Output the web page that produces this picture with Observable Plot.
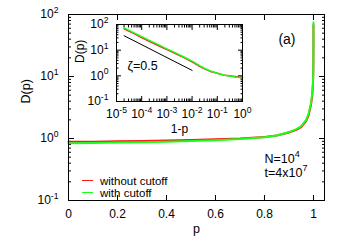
<!DOCTYPE html>
<html>
<head>
<meta charset="utf-8">
<script src="https://cdn.jsdelivr.net/npm/d3@7"></script>
<script src="https://cdn.jsdelivr.net/npm/@observablehq/plot@0.6"></script>
<style>
  html, body { margin: 0; padding: 0; background: #fff; }
  #wrap { position: relative; width: 343px; height: 240px; font-family: "Liberation Sans", Arial, sans-serif; }
  #wrap svg { position: absolute; left: 0; top: 0; }
  .leg { position: absolute; left: 82px; font-size: 11.5px; line-height: 11px; white-space: nowrap; color: #000; }
  .sw { display: inline-block; width: 11px; height: 0; border-top: 1px solid; vertical-align: middle; margin-right: 7px; position: relative; top: -1px; }
</style>
</head>
<body>
<div id="wrap"></div>
<script>
// ---- data ----
const oneMinusP = [1, 0.9, 0.8, 0.7, 0.6, 0.5, 0.4, 0.3, 0.2, 0.15, 0.1, 0.07, 0.05, 0.03, 0.02, 0.01, 0.005, 0.002, 0.001, 5e-4, 2e-4, 1e-4, 5e-5, 2e-5];
const dWithout  = [0.89, 0.89, 0.9, 0.91, 0.93, 0.95, 0.97, 1.0, 1.06, 1.12, 1.25, 1.38, 1.52, 1.9, 2.35, 3.5, 5.0, 7.7, 10.5, 14.5, 22, 31, 44, 68];
const dWith     = [0.84, 0.85, 0.86, 0.87, 0.89, 0.91, 0.94, 0.98, 1.05, 1.12, 1.27, 1.42, 1.58, 2.0, 2.5, 3.75, 5.3, 8.2, 11.3, 15.8, 24, 33.5, 47, 74];
const refX = [2e-5, 1e-2];      // zeta = 0.5 guide line
const refD = [36.5, 1.63];
const seriesNames = ["without cutoff", "with cutoff"];
const seriesColors = ["#ff1a1a", "#1aff1a"];
const xTicks = [0, 0.2, 0.4, 0.6, 0.8, 1];
const yMajor = [0.1, 1, 10, 100];
const insetXMajor = [1e-5, 1e-4, 1e-3, 1e-2, 1e-1, 1];

// minor log ticks
function minorLog(lo, hi) {
  const out = [];
  for (let e = lo; e < hi; e++) for (let m = 2; m <= 9; m++) out.push(m * Math.pow(10, e));
  return out;
}
const yMinor = minorLog(-1, 2);
const insetXMinor = minorLog(-5, 0);

const mainWithout = oneMinusP.map((q, i) => ({p: 1 - q, D: dWithout[i]}));
const mainWith = oneMinusP.map((q, i) => ({p: 1 - q, D: dWith[i]}));
const insWithout = oneMinusP.map((q, i) => ({q, D: dWithout[i]}));
const insWith = oneMinusP.map((q, i) => ({q, D: dWith[i]}));
const refLine = refX.map((q, i) => ({q, D: refD[i]}));

const pow10 = d => `10^${Math.round(Math.log10(d))}`;
const blank = () => "";
const font = "Liberation Sans, Arial, Helvetica, sans-serif";

const main = Plot.plot({
  width: 343, height: 240,
  marginLeft: 68, marginRight: 19, marginTop: 14, marginBottom: 40,
  x: {domain: [0, 1.045]},
  y: {type: "log", domain: [0.1, 100]},
  style: {fontFamily: font, fontSize: "12px", background: "transparent", color: "#000"},
  marks: [
    Plot.axisX({ticks: xTicks, tickSize: -5, tickPadding: 14, tickFormat: d => String(d), label: null}),
    Plot.axisX({anchor: "top", ticks: xTicks, tickSize: -5, tickFormat: blank, label: null}),
    Plot.axisY({ticks: yMajor, tickSize: -6, tickPadding: 16, tickFormat: pow10, label: null}),
    Plot.axisY({anchor: "right", ticks: yMajor, tickSize: -6, tickFormat: blank, label: null}),
    Plot.axisY({ticks: yMinor, tickSize: -3, tickFormat: blank, label: null}),
    Plot.axisY({anchor: "right", ticks: yMinor, tickSize: -3, tickFormat: blank, label: null}),
    Plot.line(mainWithout, {x: "p", y: "D", stroke: seriesColors[0], strokeWidth: 2}),
    Plot.line(mainWith, {x: "p", y: "D", stroke: seriesColors[1], strokeWidth: 2}),
    Plot.frame({stroke: "#000"}),
    Plot.text(["p"], {text: d => d, frameAnchor: "bottom", dy: 32, fontSize: 12.5}),
    Plot.text(["D(p)"], {text: d => d, frameAnchor: "left", dx: -43, dy: -4, rotate: -90, fontSize: 12.5}),
    Plot.text(["(a)"], {text: d => d, frameAnchor: "top-right", dx: -29, dy: 20, fontSize: 14}),
    Plot.text(["N=10^4"], {text: d => d, frameAnchor: "bottom-right", dx: -60, dy: -38, textAnchor: "start", fontSize: 12.5}),
    Plot.text(["t=4x10^7"], {text: d => d, frameAnchor: "bottom-right", dx: -60, dy: -24, textAnchor: "start", fontSize: 12.5})
  ]
});

const inset = Plot.plot({
  width: 343, height: 240,
  marginLeft: 116, marginRight: 101, marginTop: 24, marginBottom: 139,
  x: {type: "log", domain: [1e-5, 1]},
  y: {type: "log", domain: [0.1, 100]},
  style: {fontFamily: font, fontSize: "12px", background: "transparent", color: "#000"},
  marks: [
    Plot.axisX({ticks: insetXMajor, tickSize: -5, tickPadding: 13, tickFormat: pow10, label: null}),
    Plot.axisX({anchor: "top", ticks: insetXMajor, tickSize: -5, tickFormat: blank, label: null}),
    Plot.axisX({ticks: insetXMinor, tickSize: -2.5, tickFormat: blank, label: null}),
    Plot.axisX({anchor: "top", ticks: insetXMinor, tickSize: -2.5, tickFormat: blank, label: null}),
    Plot.axisY({ticks: yMajor, tickSize: -5, tickPadding: 13, tickFormat: pow10, label: null}),
    Plot.axisY({anchor: "right", ticks: yMajor, tickSize: -5, tickFormat: blank, label: null}),
    Plot.axisY({ticks: yMinor, tickSize: -2.5, tickFormat: blank, label: null}),
    Plot.axisY({anchor: "right", ticks: yMinor, tickSize: -2.5, tickFormat: blank, label: null}),
    Plot.line(refLine, {x: "q", y: "D", stroke: "#000", strokeWidth: 1}),
    Plot.line(insWithout, {x: "q", y: "D", stroke: seriesColors[0], strokeWidth: 1.5}),
    Plot.line(insWith, {x: "q", y: "D", stroke: seriesColors[1], strokeWidth: 1.5}),
    Plot.frame({stroke: "#000"}),
    Plot.text(["ζ=0.5"], {text: d => d, frameAnchor: "top-left", dx: 11, dy: 37, textAnchor: "start", fontSize: 12.5}),
    Plot.text(["1-p"], {text: d => d, frameAnchor: "bottom", dy: 31, fontSize: 12}),
    Plot.text(["D(p)"], {text: d => d, frameAnchor: "left", dx: -36, rotate: -90, fontSize: 12})
  ]
});

function supify(svg) {
  svg.querySelectorAll("text, tspan").forEach(el => {
    if (el.children.length) return;
    const s = el.textContent;
    const i = s.indexOf("^");
    if (i < 0) return;
    el.textContent = s.slice(0, i);
    const t = document.createElementNS("http://www.w3.org/2000/svg", "tspan");
    t.setAttribute("dy", "-0.6em");
    t.setAttribute("font-size", "0.72em");
    t.textContent = s.slice(i + 1);
    el.appendChild(t);
  });
}
supify(main);
supify(inset);

const wrap = document.getElementById("wrap");
wrap.appendChild(main);
wrap.appendChild(inset);

// legend
const legTops = [175.5, 187.5];
seriesNames.forEach((name, i) => {
  const row = document.createElement("div");
  row.className = "leg";
  row.style.top = legTops[i] + "px";
  const sw = document.createElement("span");
  sw.className = "sw";
  sw.style.borderTopColor = seriesColors[i];
  row.appendChild(sw);
  row.appendChild(document.createTextNode(name));
  wrap.appendChild(row);
});
</script>
</body>
</html>
